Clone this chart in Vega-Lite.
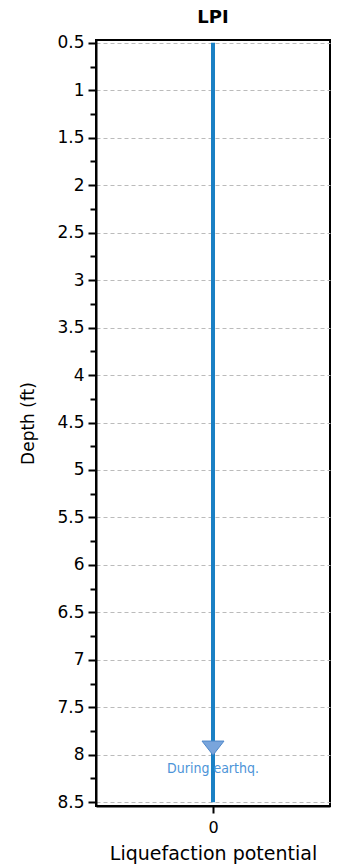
{
  "$schema": "https://vega.github.io/schema/vega-lite/v6.json",
  "width": 234,
  "height": 766,
  "autosize": "none",
  "padding": {"left": 96, "top": 40, "right": 18, "bottom": 62},
  "title": {"text": "LPI", "font": "DejaVu Sans", "fontSize": 18, "fontWeight": "bold", "color": "#000", "offset": 7},
  "config": {
    "view": {"stroke": "#000", "strokeWidth": 2},
    "axis": {"labelFont": "DejaVu Sans", "titleFont": "DejaVu Sans", "labelColor": "#000", "titleColor": "#000", "domainColor": "#000", "tickColor": "#000", "domainWidth": 2, "tickWidth": 2}
  },
  "datasets": {
    "line": [{"depth": 0.5, "lpi": 0}, {"depth": 8.5, "lpi": 0}],
    "marker": [{"depth": 7.93, "lpi": 0, "label": "During earthq."}]
  },
  "encoding": {
    "x": {"field": "lpi", "type": "quantitative", "scale": {"domain": [-1, 1]},
      "axis": {"values": [0], "format": "d", "title": "Liquefaction potential", "titleFontSize": 19, "titleFontWeight": "normal", "labelFontSize": 16, "tickSize": 7, "grid": false, "titlePadding": 9, "labelPadding": 6}},
    "y": {"field": "depth", "type": "quantitative", "scale": {"domain": [0.47, 8.54], "nice": false, "zero": false, "reverse": true},
      "axis": {
        "values": [0.5,0.75,1,1.25,1.5,1.75,2,2.25,2.5,2.75,3,3.25,3.5,3.75,4,4.25,4.5,4.75,5,5.25,5.5,5.75,6,6.25,6.5,6.75,7,7.25,7.5,7.75,8,8.25,8.5],
        "labelExpr": "datum.value % 0.5 == 0 ? format(datum.value, '~g') : ''",
        "title": "Depth (ft)", "titleFontSize": 17, "titleFontWeight": "normal", "labelFontSize": 17, "titlePadding": 19,
        "tickSize": {"condition": {"test": "datum.value % 0.5 == 0", "value": 8}, "value": 6},
        "grid": true,
        "gridDash": [4, 3], "gridColor": "#bbbbbb", "gridWidth": 1.2,
        "gridOpacity": {"condition": {"test": "datum.value % 0.5 == 0", "value": 1}, "value": 0},
        "labelPadding": 4,
        "labelOverlap": false
      }}
  },
  "layer": [
    {
      "data": {"name": "line"},
      "mark": {"type": "line", "color": "#1a80c4", "strokeWidth": 4}
    },
    {
      "data": {"name": "marker"},
      "mark": {"type": "point", "shape": "M-1,-0.64L1,-0.64L0,0.64Z", "filled": true, "size": 484, "color": "#79a5dc", "stroke": "#4f87c9", "strokeWidth": 1, "opacity": 1}
    },
    {
      "data": {"name": "marker"},
      "mark": {"type": "text", "font": "DejaVu Sans Condensed", "fontSize": 14, "color": "#4d94d8", "dy": 21},
      "encoding": {
        "text": {"field": "label"}
      }
    }
  ]
}
